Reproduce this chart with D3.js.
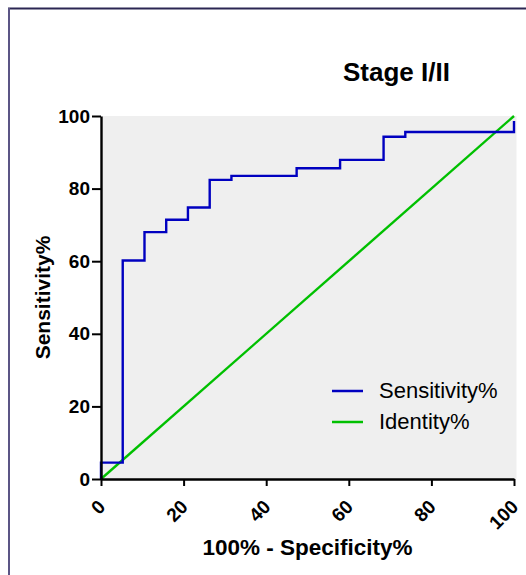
<!DOCTYPE html>
<html>
<head>
<meta charset="utf-8">
<script src="https://cdn.jsdelivr.net/npm/d3@7"></script>
<style>
    html, body { margin: 0; padding: 0; background: #fff; }
    svg { display: block; font-family: Arial, "Liberation Sans", sans-serif; }
</style>
</head>
<body>
<div id="chart"></div>
<script>
// ROC curve vertices (100% - specificity, sensitivity)
const fpr = [0, 0, 5.26, 10.53, 15.79, 21.05, 26.32, 31.58, 47.37, 57.89, 68.42, 73.68, 100];
const sensitivity = [0, 4.5, 60.2, 68.0, 71.4, 74.8, 82.4, 83.5, 85.6, 87.9, 94.3, 95.6, 98.6];
const identityX = [0, 100];
const identityY = [0, 100];
const ticks = [0, 20, 40, 60, 80, 100];
const legendLabels = ["Sensitivity%", "Identity%"];
const colors = ["#0000c0", "#00c000"];

const width = 526;
const height = 575;

const xScale = d3.scaleLinear()
                 .domain([0, 100])
                 .range([101, 514]);
const yScale = d3.scaleLinear()
                 .domain([0, 100])
                 .range([479, 116]);

let svg = d3.select("#chart").append("svg")
            .attr("width", width)
            .attr("height", height);

// outer frame (top + left edges only are visible)
svg.append("line")
   .attr("x1", 8).attr("x2", width)
   .attr("y1", 8.5).attr("y2", 8.5)
   .attr("stroke", "#2b2653")
   .attr("stroke-width", 2);
svg.append("line")
   .attr("x1", 9).attr("x2", 9)
   .attr("y1", 8).attr("y2", height)
   .attr("stroke", "#5b5585")
   .attr("stroke-width", 2);

// plot background
svg.append("rect")
   .attr("x", xScale(0))
   .attr("y", yScale(100))
   .attr("width", xScale(100) - xScale(0) + 2.5)
   .attr("height", yScale(0) - yScale(100))
   .attr("fill", "#efefef");

// title
svg.append("text")
   .attr("x", 343)
   .attr("y", 81)
   .attr("font-size", 26)
   .attr("font-weight", "bold")
   .text("Stage I/II");

// lines
const rocLine = d3.line()
                  .x(d => xScale(d[0]))
                  .y(d => yScale(d[1]))
                  .curve(d3.curveStepAfter);
const straight = d3.line()
                   .x(d => xScale(d[0]))
                   .y(d => yScale(d[1]));

svg.append("path")
   .datum(identityX.map((x, i) => [x, identityY[i]]))
   .attr("d", straight)
   .attr("fill", "none")
   .attr("stroke", colors[1])
   .attr("stroke-width", 2.4);

svg.append("path")
   .datum(fpr.map((x, i) => [x, sensitivity[i]]))
   .attr("d", rocLine)
   .attr("fill", "none")
   .attr("stroke", colors[0])
   .attr("stroke-width", 2.4);

// axes
let yAxis = svg.append("g")
               .attr("transform", `translate(${xScale(0)}, 0)`)
               .call(d3.axisLeft(yScale).tickValues(ticks).tickSize(9).tickSizeOuter(0).tickPadding(2));
let xAxis = svg.append("g")
               .attr("transform", `translate(0, ${yScale(0)})`)
               .call(d3.axisBottom(xScale).tickValues(ticks).tickSize(7).tickSizeOuter(0));

[xAxis, yAxis].forEach(ax => {
    ax.attr("font-size", 19).attr("font-family", "Arial, 'Liberation Sans', sans-serif");
    ax.select(".domain").attr("stroke", "#000").attr("stroke-width", 2.4);
    ax.selectAll(".tick line").attr("stroke", "#000").attr("stroke-width", 2);
    ax.selectAll(".tick text")
      .attr("fill", "#000")
      .attr("font-size", 19)
      .attr("font-weight", "bold");
});

xAxis.selectAll(".tick text")
     .attr("text-anchor", "end")
     .attr("x", 0).attr("y", 0).attr("dy", 0)
     .attr("transform", "translate(5, 29) rotate(-45)");

// axis titles
svg.append("text")
   .attr("x", (xScale(0) + xScale(100)) / 2)
   .attr("y", 555)
   .attr("text-anchor", "middle")
   .attr("font-size", 22.5)
   .attr("font-weight", "bold")
   .text("100% - Specificity%");

svg.append("text")
   .attr("transform", `translate(50, ${(yScale(0) + yScale(100)) / 2}) rotate(-90)`)
   .attr("text-anchor", "middle")
   .attr("font-size", 21)
   .attr("font-weight", "bold")
   .text("Sensitivity%");

// legend
let legend = svg.selectAll("g.legend")
                .data(legendLabels)
                .enter()
                .append("g")
                .attr("class", "legend")
                .attr("transform", (d, i) => `translate(332, ${391 + i * 31})`);
legend.append("line")
      .attr("x1", 0).attr("x2", 31)
      .attr("y1", 0).attr("y2", 0)
      .attr("stroke", (d, i) => colors[i])
      .attr("stroke-width", 2.5);
legend.append("text")
      .attr("x", 47)
      .attr("y", 7)
      .attr("font-size", 22)
      .text(d => d);
</script>
</body>
</html>
